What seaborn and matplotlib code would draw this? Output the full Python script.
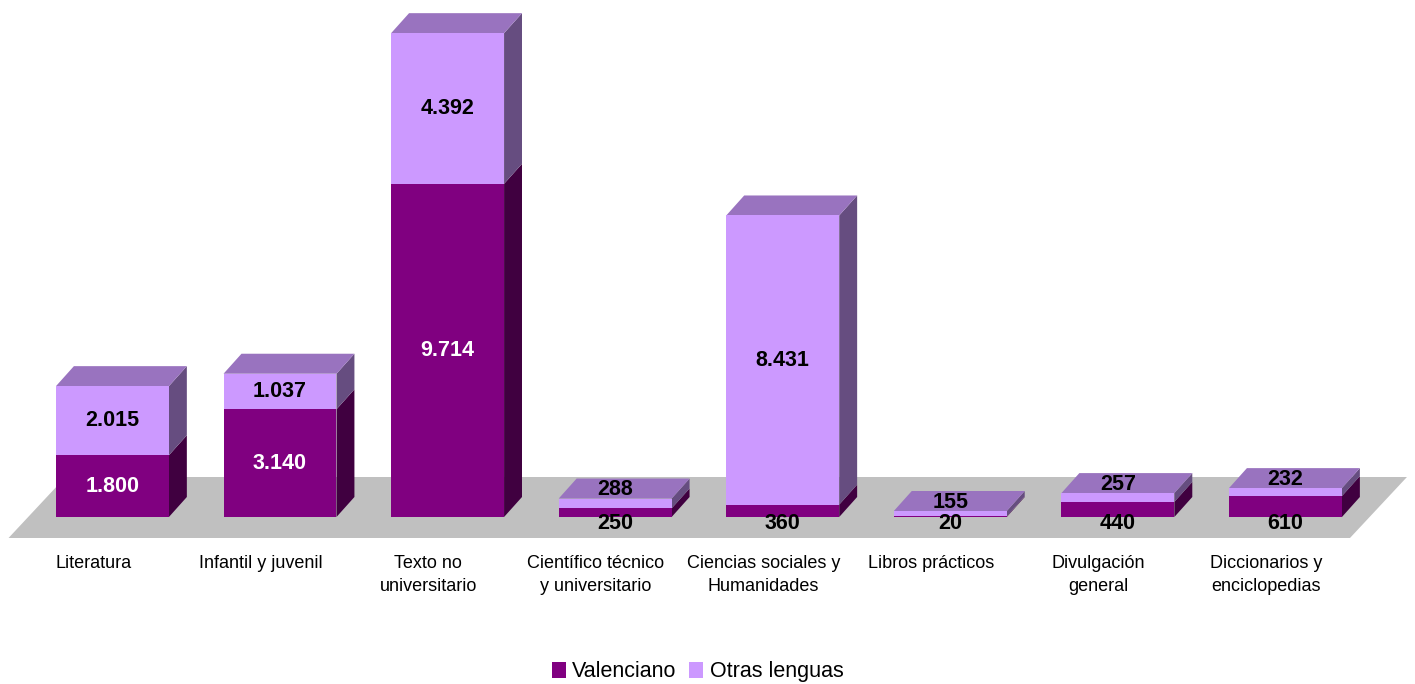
"""
3D-style stacked bar chart: book titles by category, Valenciano vs other languages.
"""

import numpy as np
import pandas as pd

import matplotlib
matplotlib.use("Agg")
import matplotlib.pyplot as plt
from matplotlib.patches import Polygon, Patch
import seaborn as sns

# ---------------------------------------------------------------------------
# Data
# ---------------------------------------------------------------------------

categories = [
    "Literatura",
    "Infantil y juvenil",
    "Texto no\nuniversitario",
    "Científico técnico\ny universitario",
    "Ciencias sociales y\nHumanidades",
    "Libros prácticos",
    "Divulgación\ngeneral",
    "Diccionarios y\nenciclopedias",
]
valenciano = [1800, 3140, 9714, 250, 360, 20, 440, 610]
otras = [2015, 1037, 4392, 288, 8431, 155, 257, 232]
series_names = ["Valenciano", "Otras lenguas"]

# ---------------------------------------------------------------------------
# Styling
# ---------------------------------------------------------------------------

sns.set_style("white")
plt.rcParams["font.family"] = ["Liberation Sans", "DejaVu Sans"]
plt.rcParams["text.color"] = "black"

VAL_FRONT, VAL_SIDE, VAL_TOP = "#800080", "#400040", "#600060"
OTR_FRONT, OTR_SIDE, OTR_TOP = "#CC99FF", "#664D80", "#9973BF"
FLOOR = "#C0C0C0"

BAR_W = 0.674          # front face width (category units)
DEPTH_X = 0.107        # 3D depth offset, x (category units)
DEPTH_Y = 583          # 3D depth offset, y (data units)
SMALL = 800            # segments below this get their label outside


def fmt(v):
    return f"{v:,}".replace(",", ".")


df = pd.DataFrame({
    "categoria": categories,
    "valenciano": valenciano,
    "total": np.array(valenciano) + np.array(otras),
})

fig = plt.figure(figsize=(14.15, 6.84), dpi=100)
ax = fig.add_axes([0, 0, 1, 1])
n = len(categories)

# floor of the 3D scene
floor_front, floor_back = -612, 1166
floor = Polygon(
    [(-0.62, floor_front), (n - 0.615, floor_front),
     (n - 0.275, floor_back), (-0.28, floor_back)],
    closed=True, facecolor=FLOOR, edgecolor="none", zorder=0,
)
ax.add_patch(floor)

# front faces: totals first (Otras colour), Valenciano over them
sns.barplot(data=df, x="categoria", y="total", color=OTR_FRONT, saturation=1,
            width=BAR_W, errorbar=None, linewidth=0, ax=ax, zorder=3)
sns.barplot(data=df, x="categoria", y="valenciano", color=VAL_FRONT, saturation=1,
            width=BAR_W, errorbar=None, linewidth=0, ax=ax, zorder=3)

tot_bars = ax.patches[1:1 + n]
val_bars = ax.patches[1 + n:1 + 2 * n]

for tb, vb, v, o in zip(tot_bars, val_bars, valenciano, otras):
    x0 = tb.get_x()
    x1 = x0 + tb.get_width()
    top = tb.get_height()
    mid = vb.get_height()
    # side faces
    for lo, hi, col in [(0, mid, VAL_SIDE), (mid, top, OTR_SIDE)]:
        ax.add_patch(Polygon(
            [(x1, lo), (x1 + DEPTH_X, lo + DEPTH_Y),
             (x1 + DEPTH_X, hi + DEPTH_Y), (x1, hi)],
            closed=True, facecolor=col, edgecolor="none", zorder=2))
    # top face
    ax.add_patch(Polygon(
        [(x0, top), (x1, top), (x1 + DEPTH_X, top + DEPTH_Y),
         (x0 + DEPTH_X, top + DEPTH_Y)],
        closed=True, facecolor=OTR_TOP if o > 0 else VAL_TOP,
        edgecolor="none", zorder=2))

    cx = x0 + tb.get_width() / 2
    # Valenciano labels
    if v >= SMALL:
        ax.text(cx, v / 2, fmt(v), ha="center", va="center", color="white",
                fontsize=15.5, fontweight="bold", zorder=5)
    else:
        ax.text(cx, -200, fmt(v), ha="center", va="center", color="black",
                fontsize=15.5, fontweight="bold", zorder=5)
    # Otras labels
    if o >= SMALL:
        ax.text(cx, v + o / 2, fmt(o), ha="center", va="center", color="black",
                fontsize=15.5, fontweight="bold", zorder=5)
    else:
        ax.text(cx, top + 250, fmt(o), ha="center", va="center", color="black",
                fontsize=15.5, fontweight="bold", zorder=5)

# category labels
for i, cat in enumerate(categories):
    ax.text(i - 0.115, -1100, cat, ha="center", va="top", fontsize=13,
            linespacing=1.5, color="black")

ax.set_xlim(-0.671, 7.773)
ax.set_ylim(-4869, 15073)
ax.axis("off")

handles = [Patch(facecolor=VAL_FRONT, edgecolor="none"),
           Patch(facecolor=OTR_FRONT, edgecolor="none")]
fig.legend(handles, series_names, loc="center", bbox_to_anchor=(0.493, 0.018),
           ncol=2, frameon=False, fontsize=15.5, handlelength=0.65, handleheight=0.75,
           handletextpad=0.3, columnspacing=0.6, labelcolor="black")

fig.savefig("out.png", dpi=100)
